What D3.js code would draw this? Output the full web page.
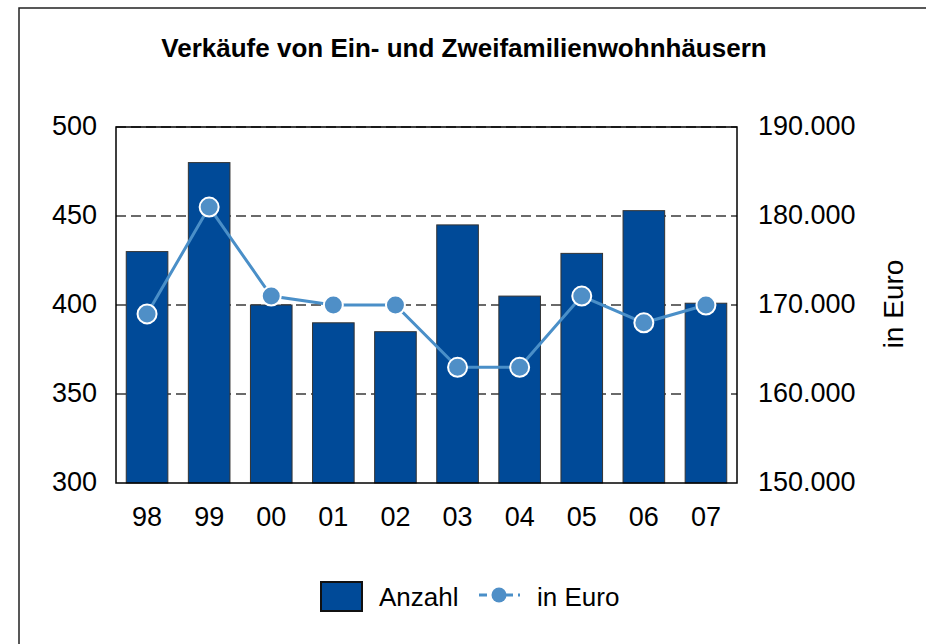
<!DOCTYPE html>
<html lang="de">
<head>
  <meta charset="UTF-8">
  <title>Verkäufe von Ein- und Zweifamilienwohnhäusern</title>
  <script src="https://d3js.org/d3.v7.min.js"></script>
  <style>
    body { margin: 0; background: #fff; font-family: "Liberation Sans", Arial, sans-serif; }
    text { fill: #000; }
  </style>
</head>
<body>
  <svg width="926" height="644"></svg>
  <script>
    const years = ["98", "99", "00", "01", "02", "03", "04", "05", "06", "07"];
    const anzahl = [430, 480, 400, 390, 385, 445, 405, 429, 453, 401];
    const euro = [169000, 181000, 171000, 170000, 170000, 163000, 163000, 171000, 168000, 170000];
    const leftTicks = [300, 350, 400, 450, 500];
    const rightTicks = [150000, 160000, 170000, 180000, 190000];

    const svg = d3.select("svg");
    const m = { left: 116, right: 737, top: 127, bottom: 483 };

    // outer frame (runs off the right and bottom edge)
    svg.append("rect")
      .attr("x", 19).attr("y", 8).attr("width", 1000).attr("height", 1000)
      .attr("fill", "none").attr("stroke", "#222").attr("stroke-width", 1.5);

    svg.append("text")
      .attr("x", 464).attr("y", 57)
      .attr("text-anchor", "middle")
      .style("font-size", "26px").style("font-weight", "bold")
      .text("Verkäufe von Ein- und Zweifamilienwohnhäusern");

    const x = d3.scaleBand().domain(years).range([m.left, m.right]).paddingInner(0.33).paddingOuter(0.165);
    const yL = d3.scaleLinear().domain([300, 500]).range([m.bottom, m.top]);
    const yR = d3.scaleLinear().domain([150000, 190000]).range([m.bottom, m.top]);

    // grid
    svg.append("g").selectAll("line")
      .data(leftTicks.slice(1))
      .enter().append("line")
      .attr("x1", m.left).attr("x2", m.right)
      .attr("y1", d => yL(d)).attr("y2", d => yL(d))
      .attr("stroke", "#3a3a3a").attr("stroke-width", 1.5)
      .attr("stroke-dasharray", "10,5");

    // bars
    svg.append("g").selectAll("rect")
      .data(years)
      .enter().append("rect")
      .attr("x", d => x(d))
      .attr("y", (d, i) => yL(anzahl[i]))
      .attr("width", x.bandwidth())
      .attr("height", (d, i) => yL(300) - yL(anzahl[i]))
      .attr("fill", "#004a98")
      .attr("stroke", "#333").attr("stroke-width", 1);

    // plot border
    svg.append("rect")
      .attr("x", m.left).attr("y", m.top)
      .attr("width", m.right - m.left).attr("height", m.bottom - m.top)
      .attr("fill", "none").attr("stroke", "#000").attr("stroke-width", 1.5);

    // line
    const cx = d => x(d) + x.bandwidth() / 2;
    const line = d3.line().x(d => cx(d)).y((d, i) => yR(euro[i]));
    svg.append("path")
      .datum(years)
      .attr("d", line)
      .attr("fill", "none").attr("stroke", "#4a8fc8").attr("stroke-width", 3);

    svg.append("g").selectAll("circle")
      .data(years)
      .enter().append("circle")
      .attr("cx", cx)
      .attr("cy", (d, i) => yR(euro[i]))
      .attr("r", 9.5)
      .attr("fill", "#4f8fc7")
      .attr("stroke", "#fff").attr("stroke-width", 2);

    // axes
    const left = svg.append("g")
      .attr("transform", `translate(${m.left},0)`)
      .call(d3.axisLeft(yL).tickValues(leftTicks).tickSize(0).tickPadding(19));
    const right = svg.append("g")
      .attr("transform", `translate(${m.right},0)`)
      .call(d3.axisRight(yR).tickValues(rightTicks).tickSize(0).tickPadding(21)
        .tickFormat(d => d3.format(",")(d).replace(/,/g, ".")));
    const bottom = svg.append("g")
      .attr("transform", `translate(0,${m.bottom})`)
      .call(d3.axisBottom(x).tickSize(0).tickPadding(24));

    [left, right, bottom].forEach(g => {
      g.select(".domain").remove();
      g.selectAll("text")
        .style("font-size", "27px")
        .style("font-family", "'Liberation Sans', Arial, sans-serif")
        .attr("fill", "#000");
    });
    left.selectAll("text").attr("dy", "0.28em");
    right.selectAll("text").attr("dy", "0.28em");

    svg.append("text")
      .attr("transform", "translate(903,304) rotate(-90)")
      .attr("text-anchor", "middle")
      .style("font-size", "28px")
      .text("in Euro");

    // legend
    const lg = svg.append("g");
    lg.append("rect")
      .attr("x", 321).attr("y", 582).attr("width", 41).attr("height", 29)
      .attr("fill", "#004a98").attr("stroke", "#111").attr("stroke-width", 2);
    lg.append("text").attr("x", 379).attr("y", 606).style("font-size", "26px").text("Anzahl");
    lg.append("line")
      .attr("x1", 479).attr("x2", 520).attr("y1", 595).attr("y2", 595)
      .attr("stroke", "#4a8fc8").attr("stroke-width", 3).attr("stroke-dasharray", "8,5");
    lg.append("circle")
      .attr("cx", 499).attr("cy", 595).attr("r", 7.5)
      .attr("fill", "#4f8fc7");
    lg.append("text").attr("x", 537).attr("y", 606).style("font-size", "26px").text("in Euro");
  </script>
</body>
</html>
